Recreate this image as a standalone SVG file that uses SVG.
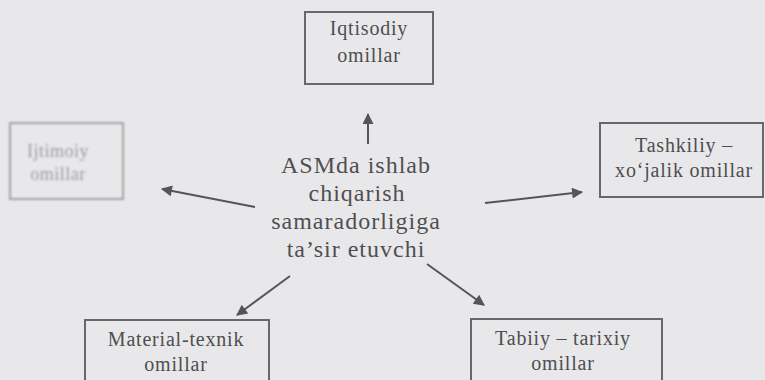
<svg xmlns="http://www.w3.org/2000/svg" width="765" height="380" viewBox="0 0 765 380">
  <defs>
    <style>
      .box { fill: none; stroke: #68686a; stroke-width: 2; }
      .faint { fill: none; stroke: #a2a2a6; stroke-width: 2; }
      .lbl { font-family: "Liberation Serif", "Times New Roman", serif; font-size: 20px; fill: #4e4e50; text-anchor: middle; letter-spacing: 0.8px; }
      .main { font-family: "Liberation Serif", "Times New Roman", serif; font-size: 24px; fill: #4f4f51; text-anchor: middle; letter-spacing: 1px; }
      .faintlbl { font-family: "Liberation Serif", "Times New Roman", serif; font-size: 18px; fill: #9e9ea2; text-anchor: middle; letter-spacing: 0.5px; }
      .arr { stroke: #555557; stroke-width: 2; fill: none; marker-end: url(#ah); }
    </style>
    <marker id="ah" viewBox="0 0 10 10" refX="9" refY="5" markerWidth="6.5" markerHeight="5.5" markerUnits="strokeWidth" orient="auto">
      <path d="M0,0 L10,5 L0,10 Z" fill="#555557"/>
    </marker>
    <filter id="blur" x="-10%" y="-10%" width="120%" height="120%">
      <feGaussianBlur stdDeviation="0.9"/>
    </filter>
  </defs>
  <rect x="0" y="0" width="765" height="380" fill="#e8e8ea"/>

  <g id="center">
    <text class="main" x="356" y="173">ASMda ishlab</text>
    <text class="main" x="357" y="201">chiqarish</text>
    <text class="main" x="356" y="229">samaradorligiga</text>
    <text class="main" x="356" y="257">ta’sir etuvchi</text>
  </g>

  <g id="iqtisodiy">
    <rect class="box" x="305" y="12" width="128" height="72"/>
    <text class="lbl" x="369" y="35">Iqtisodiy</text>
    <text class="lbl" x="369" y="62">omillar</text>
  </g>

  <g id="ijtimoiy" filter="url(#blur)">
    <rect class="faint" x="10" y="123" width="113" height="76"/>
    <text class="faintlbl" x="58" y="157">Ijtimoiy</text>
    <text class="faintlbl" x="58" y="180">omillar</text>
  </g>

  <g id="tashkiliy">
    <rect class="box" x="600" y="123" width="163" height="74"/>
    <text class="lbl" x="684" y="152">Tashkiliy –</text>
    <text class="lbl" x="684" y="177">xo‘jalik omillar</text>
  </g>

  <g id="material">
    <rect class="box" x="85" y="320" width="184" height="70"/>
    <text class="lbl" x="176" y="346">Material-texnik</text>
    <text class="lbl" x="176" y="371">omillar</text>
  </g>

  <g id="tabiiy">
    <rect class="box" x="471" y="319" width="191" height="71"/>
    <text class="lbl" x="563" y="345">Tabiiy – tarixiy</text>
    <text class="lbl" x="563" y="370">omillar</text>
  </g>

  <g id="connectors">
    <line class="arr" x1="368" y1="144" x2="368" y2="114"/>
    <line class="arr" x1="255" y1="207" x2="162" y2="189"/>
    <line class="arr" x1="485" y1="203" x2="582" y2="192"/>
    <line class="arr" x1="290" y1="276" x2="237" y2="315"/>
    <line class="arr" x1="427" y1="264" x2="484" y2="305"/>
  </g>
</svg>
